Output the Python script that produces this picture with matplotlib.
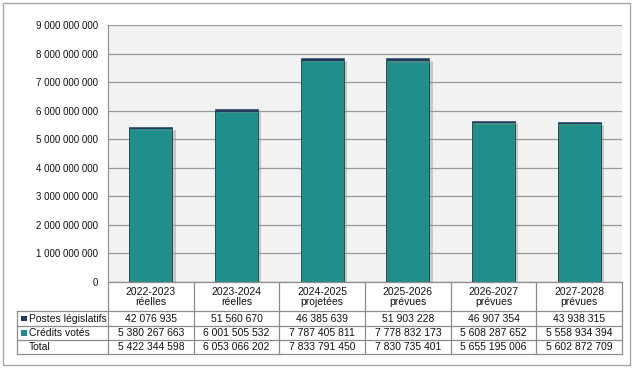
import matplotlib
matplotlib.use("Agg")
import matplotlib.pyplot as plt
import matplotlib.patheffects as pe
from matplotlib.patches import Rectangle
from matplotlib.lines import Line2D
from matplotlib.transforms import blended_transform_factory

plt.rcParams['font.family'] = ['Liberation Sans', 'DejaVu Sans']

categories = ["2022-2023\nréelles", "2023-2024\nréelles", "2024-2025\nprojetées",
              "2025-2026\nprévues", "2026-2027\nprévues", "2027-2028\nprévues"]
postes = [42076935, 51560670, 46385639, 51903228, 46907354, 43938315]
credits = [5380267663, 6001505532, 7787405811, 7778832173, 5608287652, 5558934394]
totals = [5422344598, 6053066202, 7833791450, 7830735401, 5655195006, 5602872709]
series_names = ["Postes législatifs", "Crédits votés", "Total"]
yticks = [0, 1e9, 2e9, 3e9, 4e9, 5e9, 6e9, 7e9, 8e9, 9e9]

W, H = 634, 371
fig = plt.figure(figsize=(W / 100, H / 100), dpi=100)

def fx(px):
    return px / W

def fy(py):
    return 1 - py / H

# outer border
fig.patches.append(Rectangle((fx(3), fy(365)), fx(627), (362) / H, transform=fig.transFigure,
                             fill=False, edgecolor='#A6A6A6', linewidth=1.0))

left, right, top, bottom = 108, 622, 25, 282
ax = fig.add_axes([fx(left), fy(bottom), fx(right - left), (bottom - top) / H])
ax.set_facecolor('#F2F2F2')
ax.set_xlim(-0.5, len(categories) - 0.5)
ax.set_ylim(0, 9e9)
ax.set_yticks(yticks)
ax.set_yticklabels([f"{int(v):,}".replace(",", " ") for v in yticks], fontsize=7, color='#111111')
ax.tick_params(axis='y', length=0, pad=7)
ax.set_xticks([])
for s in ['top', 'right', 'bottom']:
    ax.spines[s].set_visible(False)
ax.spines['left'].set_color('#8C8C8C')
ax.yaxis.grid(True, color='#9A9A9A', linewidth=0.9)
ax.set_axisbelow(True)

teal = '#1E8F8A'
navy = '#1F3A5C'
x = list(range(len(categories)))
shadow = [pe.SimplePatchShadow(offset=(2.5, -2), shadow_rgbFace='#8A8A8A', alpha=0.4), pe.Normal()]
b1 = ax.bar(x, credits, width=0.5, color=teal, edgecolor='#2E4D4D', linewidth=0.7, zorder=3)
b2 = ax.bar(x, postes, bottom=credits, width=0.5, color=navy, edgecolor=navy, linewidth=0.4, zorder=3)
for p in list(b1) + list(b2):
    p.set_path_effects(shadow)

# table
trans = blended_transform_factory(ax.transData, fig.transFigure)
rows_y = [282, 311, 326, 340, 354]
line_c = '#8C8C8C'
table_left_px = 17
for i, yy in enumerate(rows_y):
    x0 = fx(left) if i == 0 else fx(table_left_px)
    fig.add_artist(Line2D([x0, fx(right)], [fy(yy), fy(yy)], transform=fig.transFigure,
                          color=line_c, linewidth=0.9))
for k in range(len(categories) + 1):
    xb = k - 0.5
    fig.add_artist(Line2D([xb, xb], [fy(rows_y[0]), fy(rows_y[-1])], transform=trans,
                          color=line_c, linewidth=0.9))
fig.add_artist(Line2D([fx(table_left_px), fx(table_left_px)], [fy(rows_y[1]), fy(rows_y[-1])],
                      transform=fig.transFigure, color=line_c, linewidth=0.9))

fs = 7.5
tc = '#111111'
for i, c in enumerate(categories):
    fig.text(i, fy((rows_y[0] + rows_y[1]) / 2 + 0.5), c, transform=trans, ha='center', va='center',
             fontsize=fs, color=tc, linespacing=1.05)

row_vals = [postes, credits, totals]
for r, vals in enumerate(row_vals):
    yc = fy((rows_y[r + 1] + rows_y[r + 2]) / 2 + 0.5)
    for i, v in enumerate(vals):
        fig.text(i, yc, f"{v:,}".replace(",", " "), transform=trans, ha='center', va='center',
                 fontsize=fs, color=tc)
    fig.text(fx(29), yc, series_names[r], ha='left', va='center', fontsize=fs, color=tc)

for r, col in enumerate([navy, teal]):
    yc = (rows_y[r + 1] + rows_y[r + 2]) / 2
    fig.patches.append(Rectangle((fx(21), fy(yc + 2.5)), fx(5.5), 5.5 / H, transform=fig.transFigure,
                                 facecolor=col, edgecolor='none'))

fig.savefig("out.png", dpi=100)
